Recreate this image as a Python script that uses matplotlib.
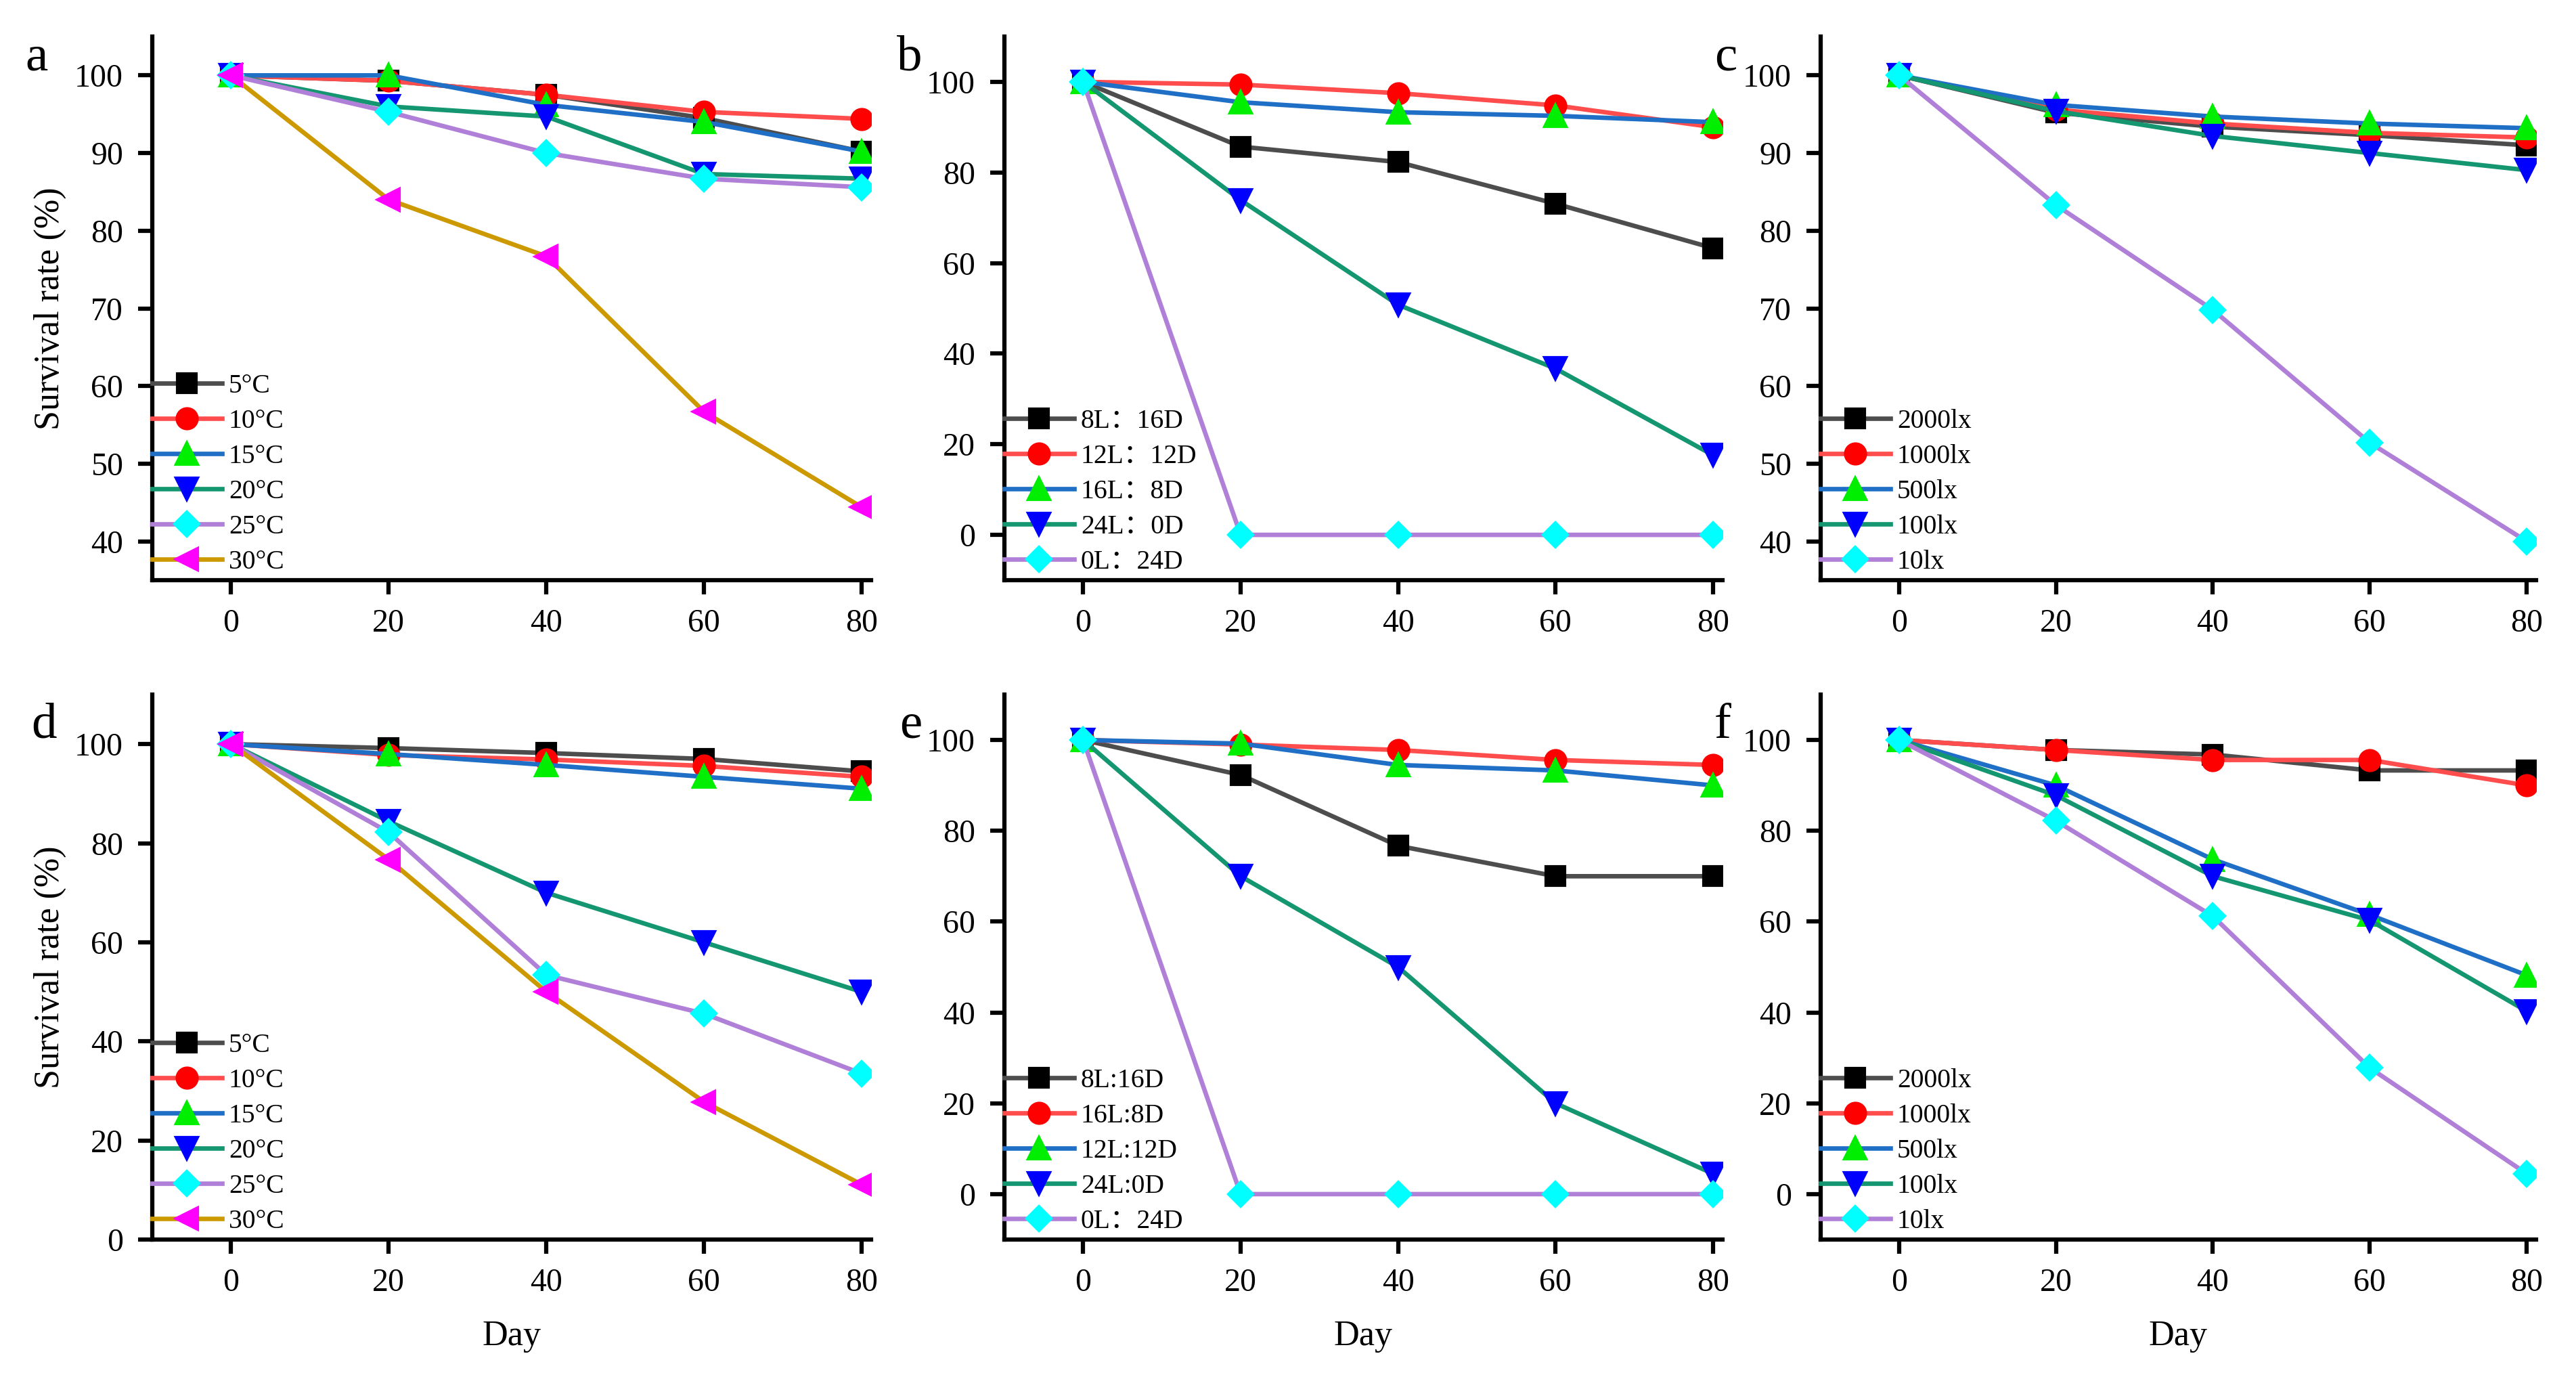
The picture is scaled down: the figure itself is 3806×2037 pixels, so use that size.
import matplotlib
matplotlib.use("Agg")
import matplotlib.pyplot as plt

plt.rcParams['font.family'] = ['Liberation Serif', 'Noto Sans CJK SC', 'DejaVu Sans']

days = [0, 20, 40, 60, 80]

# top row
temp_labels = ['5°C', '10°C', '15°C', '20°C', '25°C', '30°C']
a_vals = [
    [100, 99.3, 97.5, 94.5, 90.2],
    [100, 99.3, 97.5, 95.3, 94.4],
    [100, 100, 96.2, 94.0, 90.2],
    [100, 96.0, 94.7, 87.3, 86.7],
    [100, 95.3, 90.0, 86.7, 85.6],
    [100, 84.0, 76.7, 56.7, 44.4],
]
b_labels = ['8L\uff1a16D', '12L\uff1a12D', '16L\uff1a8D', '24L\uff1a0D', '0L\uff1a24D']
b_vals = [
    [100, 85.7, 82.3, 73.1, 63.3],
    [100, 99.4, 97.5, 94.8, 90.0],
    [100, 95.5, 93.3, 92.5, 91.1],
    [100, 73.9, 50.8, 36.7, 17.6],
    [100, 0, 0, 0, 0],
]
lux_labels = ['2000lx', '1000lx', '500lx', '100lx', '10lx']
c_vals = [
    [100, 95.2, 93.4, 92.3, 91.0],
    [100, 95.6, 93.8, 92.6, 92.0],
    [100, 96.2, 94.7, 93.8, 93.2],
    [100, 95.4, 92.2, 90.0, 87.8],
    [100, 83.3, 69.8, 52.7, 40.0],
]

# bottom row
d_vals = [
    [100, 99.2, 98.2, 97.0, 94.5],
    [100, 97.8, 96.9, 95.6, 93.4],
    [100, 98.0, 95.8, 93.4, 91.0],
    [100, 84.4, 70.0, 60.0, 50.0],
    [100, 82.2, 53.4, 45.6, 33.5],
    [100, 76.7, 50.0, 27.8, 11.1],
]
e_labels = ['8L:16D', '16L:8D', '12L:12D', '24L:0D', '0L\uff1a24D']
e_vals = [
    [100, 92.3, 76.7, 70.0, 70.0],
    [100, 99.0, 97.8, 95.6, 94.5],
    [100, 99.2, 94.5, 93.3, 90.0],
    [100, 70.0, 50.0, 20.0, 4.5],
    [100, 0, 0, 0, 0],
]
f_vals = [
    [100, 97.8, 96.8, 93.3, 93.3],
    [100, 97.8, 95.6, 95.6, 90.0],
    [100, 90.0, 73.7, 61.5, 48.2],
    [100, 87.8, 70.0, 60.3, 40.3],
    [100, 82.2, 61.2, 27.8, 4.5],
]

# style per series: line colour, marker, marker colour, marker size
line_cols = ['#4d4d4d', '#ff4d4d', '#1f6fc6', '#149670', '#b07fd8', '#cc9900']
markers = ['s', 'o', '^', 'v', 'D', '<']
mark_cols = ['#000000', '#ff0000', '#00ee00', '#0000ff', '#00ffff', '#ff00ff']
msizes = [6.8, 7.2, 7.6, 7.6, 6.0, 7.6]

W, H = 3806, 2037
fig = plt.figure(figsize=(W / 300, H / 300), dpi=300)

# axes boxes in pixels: left, right, top, bottom
cols = [(225, 1287), (1484, 2545), (2690, 3747)]
rows = [(54, 857), (1026, 1831)]

panels = [
    ('a', a_vals, temp_labels, (35, 105), range(40, 101, 10)),
    ('b', b_vals, b_labels, (-10, 110), range(0, 101, 20)),
    ('c', c_vals, lux_labels, (35, 105), range(40, 101, 10)),
    ('d', d_vals, temp_labels, (0, 110), range(0, 101, 20)),
    ('e', e_vals, e_labels, (-10, 110), range(0, 101, 20)),
    ('f', f_vals, lux_labels, (-10, 110), range(0, 101, 20)),
]
letter_pos = [(37, 104), (1325, 104), (2533, 104), (46, 1090), (1329, 1090), (2533, 1090)]

for i, (letter, vals, labels, ylim, yticks) in enumerate(panels):
    r, c = divmod(i, 3)
    l, rr = cols[c]
    t, b = rows[r]
    ax = fig.add_axes([l / W, 1 - b / H, (rr - l) / W, (b - t) / H])
    for j, (v, lab) in enumerate(zip(vals, labels)):
        ax.plot(days, v, color=line_cols[j], lw=1.6, marker=markers[j],
                ms=msizes[j], mfc=mark_cols[j], mec=mark_cols[j], label=lab)
    ax.set_xlim(-10, 81.2)
    ax.set_ylim(*ylim)
    ax.set_xticks(days)
    ax.set_yticks(list(yticks))
    for s in ['top', 'right']:
        ax.spines[s].set_visible(False)
    for s in ['left', 'bottom']:
        ax.spines[s].set_linewidth(1.5)
    ax.tick_params(direction='out', length=5, width=1.5, labelsize=11.5)
    ax.tick_params(axis='x', pad=5)
    ax.tick_params(axis='y', pad=5.3)
    if c == 0:
        ax.set_ylabel('Survival rate (%)', fontsize=12.5, labelpad=3)
    if r == 1:
        ax.set_xlabel('Day', fontsize=12.5, labelpad=8)
    ax.legend(loc='lower left', bbox_to_anchor=(0.0, 0.01), frameon=False,
              fontsize=9.5, handlelength=2.6, handletextpad=0.25,
              labelspacing=0.38, borderaxespad=0, borderpad=0)
    lx, ly = letter_pos[i]
    fig.text(lx / W, 1 - ly / H, letter, fontsize=18, va='baseline', ha='left')

fig.savefig('out.png', dpi=300)
